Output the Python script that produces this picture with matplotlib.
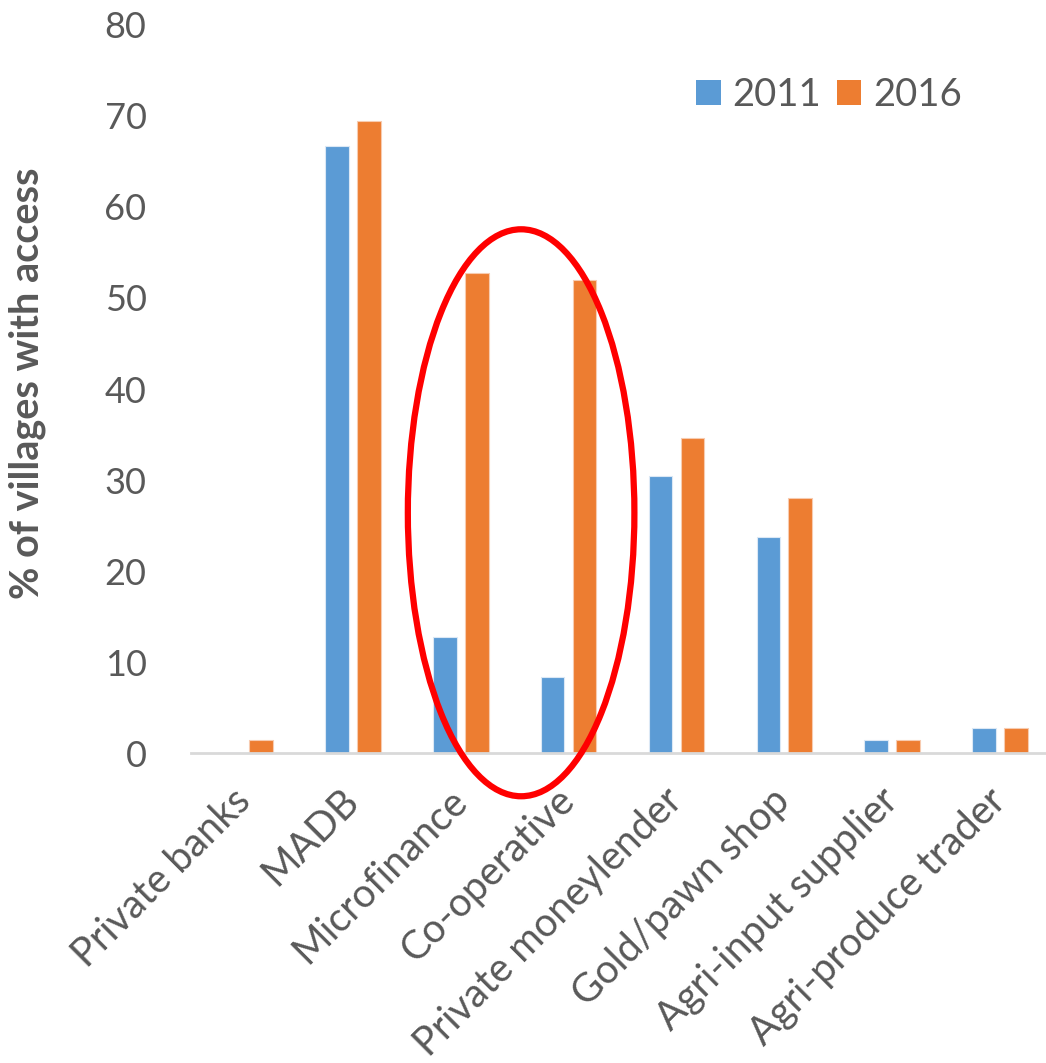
import matplotlib
matplotlib.use("Agg")
import matplotlib.pyplot as plt
from matplotlib.patches import Ellipse, Patch
import numpy as np

categories = ["Private banks", "MADB", "Microfinance", "Co-operative",
              "Private moneylender", "Gold/pawn shop", "Agri-input supplier",
              "Agri-produce trader"]
access_2011 = [0.0, 66.7, 12.7, 8.3, 30.4, 23.7, 1.4, 2.7]
access_2016 = [1.4, 69.4, 52.7, 52.0, 34.6, 28.0, 1.4, 2.7]
series_labels = ["2011", "2016"]
yticks = [0, 10, 20, 30, 40, 50, 60, 70, 80]

BLUE = "#5B9BD5"
ORANGE = "#ED7D31"
TEXT = "#595959"

plt.rcParams["font.family"] = ["Lato", "DejaVu Sans"]

fig = plt.figure(figsize=(10.46, 10.63), dpi=100)
ax = fig.add_axes([0.1826, 0.2916, 0.8251, 0.6849])

x = np.arange(len(categories))
w = 0.22
off = 0.148
ax.bar(x - off, access_2011, width=w, color=BLUE, edgecolor="#dbe8f5",
       linewidth=0.8, label=series_labels[0])
ax.bar(x + off, access_2016, width=w, color=ORANGE, edgecolor="#f7cbb0",
       linewidth=0.8, label=series_labels[1])

ax.set_xlim(-0.5, len(categories) - 0.5)
ax.set_ylim(0, 80)
ax.set_yticks(yticks)
ax.set_yticklabels([str(t) for t in yticks], fontsize=26, color=TEXT)
ax.tick_params(axis="y", length=0, pad=32)
ax.set_xticks(x)
ax.set_xticklabels(categories, rotation=45, ha="right", va="center",
                   rotation_mode="anchor", fontsize=28.5, color=TEXT)
ax.tick_params(axis="x", length=0, pad=30)

for side in ["top", "right", "left"]:
    ax.spines[side].set_visible(False)
ax.spines["bottom"].set_color("#d9d9d9")
ax.spines["bottom"].set_linewidth(2)

ax.set_ylabel("% of villages with access", fontsize=28.5, fontweight="bold",
              color=TEXT)
ax.yaxis.set_label_coords(-0.168, 0.508)

handles = [Patch(facecolor=BLUE), Patch(facecolor=ORANGE)]
ax.legend(handles, series_labels, loc="center right",
          bbox_to_anchor=(0.893, 0.904), ncol=2, frameon=False,
          fontsize=27.5, labelcolor=TEXT, handlelength=0.65, handleheight=0.65,
          handletextpad=0.3, columnspacing=0.4, borderpad=0, borderaxespad=0)

ell = Ellipse((2.56, 26.4), width=2.1, height=62.3, fill=False,
              edgecolor="#FF0000", linewidth=4.5, clip_on=False, zorder=5)
ax.add_patch(ell)

fig.savefig("out.png", dpi=100, facecolor="white")
